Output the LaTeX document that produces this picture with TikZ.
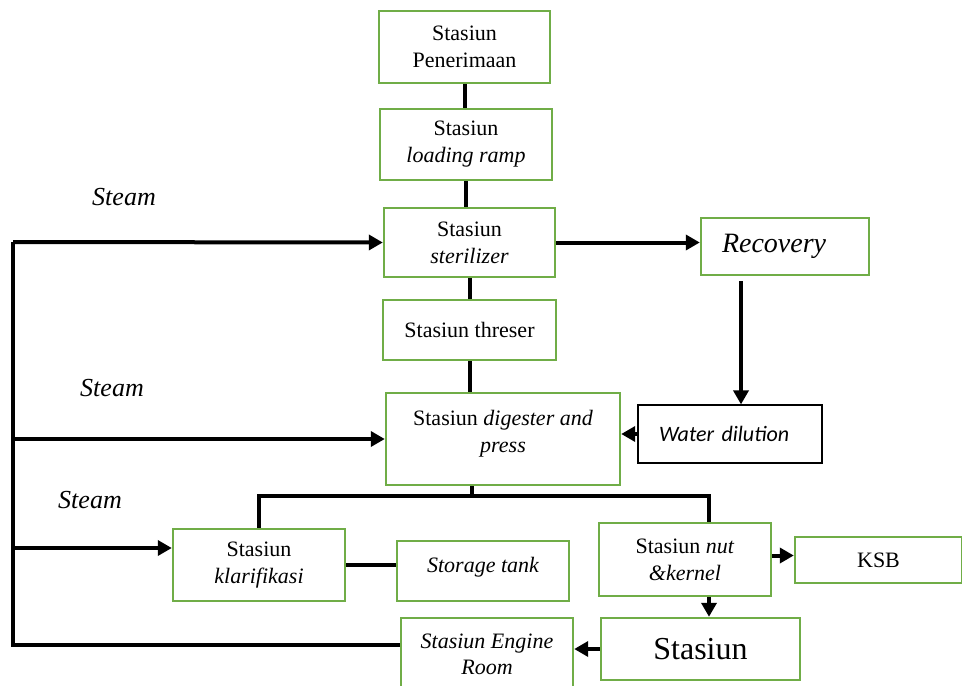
\documentclass[tikz,border=0pt]{standalone}
\usepackage{fontspec}
\setmainfont{Liberation Serif}
\newfontfamily\calibri{Carlito}
\usetikzlibrary{arrows.meta, positioning}
\definecolor{boxgreen}{HTML}{70AD47}

\begin{document}
\begin{tikzpicture}[x=0.5pt, y=-0.5pt, every node/.style={font=\fontsize{11}{13.5}\selectfont},
		station/.style={draw=boxgreen, line width=1.2pt, shape=rectangle, align=center, inner sep=0pt},
		link/.style={line width=2pt},
		flow/.style={line width=2pt, -{Triangle[length=7pt, width=7.5pt]}},
		steamlabel/.style={font=\fontsize{13}{15}\selectfont\itshape}]
		\useasboundingbox (0,0) rectangle (962,685);

		% main line
		\node[station, minimum width=85.5pt, minimum height=36pt] (penerimaan) at (464.5,47) {Stasiun\\Penerimaan};
		\node[station, minimum width=86pt, minimum height=35.5pt] (loading) at (466,144.5) {Stasiun\\\textit{loading ramp}};
		\node[station, minimum width=85.5pt, minimum height=34.5pt] (sterilizer) at (469.5,242.5) {Stasiun\\\textit{sterilizer}};
		\node[station, minimum width=86.5pt, minimum height=30pt] (threser) at (469.5,330) {Stasiun threser};
		\node[station, minimum width=117pt, minimum height=46pt] (digester) at (503,439) {Stasiun \textit{digester and}\\\textit{press}\\[-6pt]};

		% side stations
		\node[station, minimum height=28.5pt, text width=63pt, inner xsep=10.5pt, align=left, font=\fontsize{14}{16}\selectfont\itshape] (recovery) at (785,246.5) {Recovery};
		\node[draw, line width=0.6pt, minimum height=29pt, text width=71pt, inner xsep=10.5pt, align=left, font=\fontsize{11}{13}\selectfont\calibri\itshape] (water) at (730,434) {Water dilution};
		\node[station, minimum width=86pt, minimum height=36pt] (klarifikasi) at (259,565) {Stasiun\\\textit{klarifikasi}};
		\node[station, minimum width=86pt, minimum height=30pt, font=\fontsize{11}{13.5}\selectfont\itshape] (storage) at (483,571) {Storage tank\\[-7pt]};
		\node[station, minimum width=86pt, minimum height=36.5pt] (nut) at (685,559.5) {Stasiun \textit{nut}\\\textit{\&kernel}};
		\node[station, minimum width=83.5pt, minimum height=23pt] (ksb) at (878.5,560) {KSB};
		\node[station, minimum width=99.5pt, minimum height=31pt, font=\fontsize{16}{18}\selectfont] (stasiun) at (700.5,649) {Stasiun};
		\node[station, minimum width=86pt, minimum height=36pt, font=\fontsize{11}{13}\selectfont\itshape] (engine) at (487,654) {Stasiun Engine\\Room};

		\node[steamlabel] (steamA) at (124,197) {Steam};
		\node[steamlabel] (steamB) at (112,388) {Steam};
		\node[steamlabel] (steamC) at (90,500) {Steam};

		% connections
		\draw[link] (penerimaan.south) -- (penerimaan.south |- loading.north);
		\draw[link] (loading.south) -- (loading.south |- sterilizer.north);
		\draw[link] (sterilizer.south) -- (sterilizer.south |- threser.north);
		\draw[link] (threser.south) -- (threser.south |- digester.north);
		\draw[flow] (sterilizer.east) -- (recovery.west |- sterilizer.east);
		\draw[flow] ([xshift=-22pt, yshift=-2.5pt]recovery.south) -- ([xshift=-22pt]recovery.south |- water.north);
		\draw[flow] (water.west) -- (water.west -| digester.east);
		\draw[link] ([xshift=-15.5pt]digester.south) -- ++(0,10) coordinate (split);
		\draw[link] (klarifikasi.north) |- (split) -| ([xshift=12pt]nut.north);
		\draw[link] (klarifikasi.east) -- (klarifikasi.east -| storage.west);
		\draw[flow] ([yshift=2pt]nut.east) -- ([yshift=2pt]nut.east -| ksb.west);
		\draw[flow] ([xshift=12pt]nut.south) -- ([xshift=12pt]nut.south |- stasiun.north);
		\draw[flow] (stasiun.west) -- (stasiun.west -| engine.east);

		% steam line
		\coordinate (steamtop) at (13,242);
		\coordinate (steambot) at (13,645);
		\draw[link] (engine.west |- steambot) -- (steambot) -- (steamtop);
		\draw[flow] (steamtop) -- (sterilizer.west);
		\draw[flow] (steamtop |- digester.west) -- (digester.west);
		\draw[flow] (steamtop |- 0,548) -- ([yshift=8.5pt]klarifikasi.west);
	\end{tikzpicture}
\end{document}
